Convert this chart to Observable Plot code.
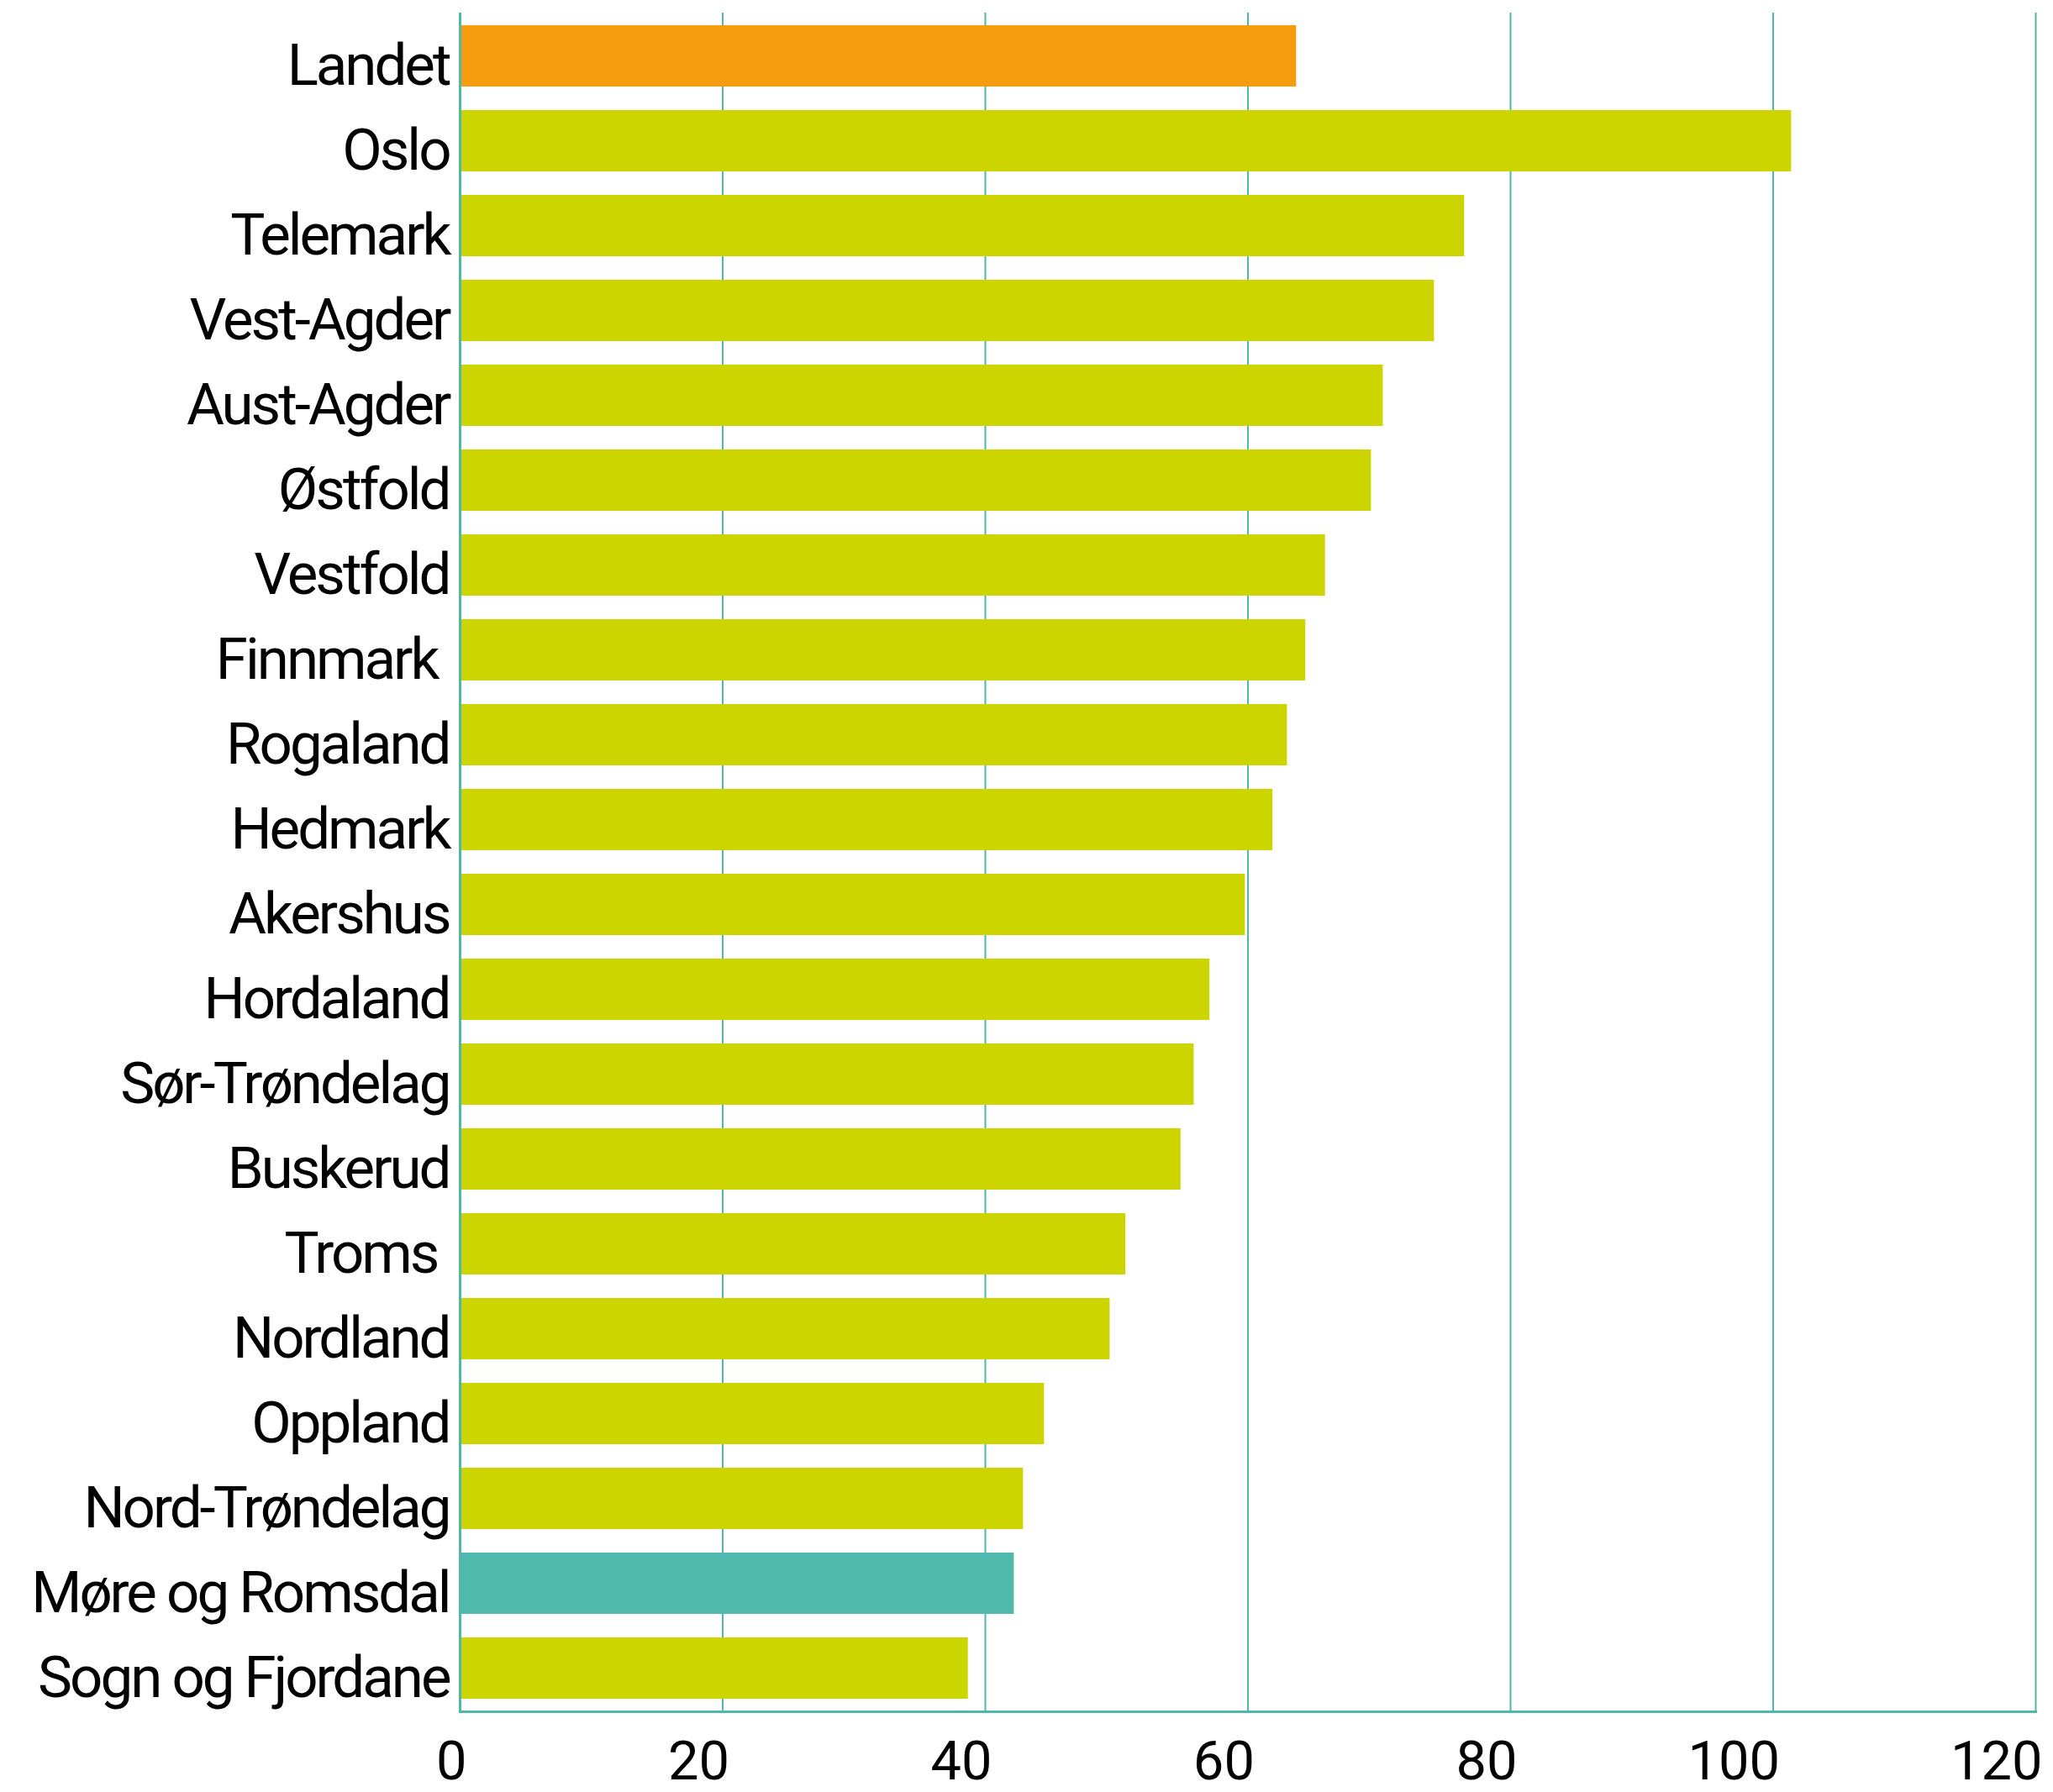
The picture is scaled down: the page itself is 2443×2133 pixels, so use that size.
<!DOCTYPE html>
<html><head><meta charset="utf-8">
<script src="https://cdn.jsdelivr.net/npm/d3@7"></script>
<script src="https://cdn.jsdelivr.net/npm/@observablehq/plot@0.6"></script>
<style>
body{margin:0;background:#fff}
g[aria-label="y-axis tick label"] text{letter-spacing:-3px}
</style>
</head><body><div id="chart"></div>
<script>
const regions = ["Landet","Oslo","Telemark","Vest-Agder","Aust-Agder","Østfold","Vestfold","Finnmark ","Rogaland","Hedmark","Akershus","Hordaland","Sør-Trøndelag","Buskerud","Troms ","Nordland","Oppland","Nord-Trøndelag","Møre og Romsdal","Sogn og Fjordane"];
const values = [63.7,101.4,76.5,74.2,70.3,69.4,65.9,64.4,63.0,61.9,59.8,57.1,55.9,54.9,50.7,49.5,44.5,42.9,42.2,38.7];
const groups = ["land","fylke","fylke","fylke","fylke","fylke","fylke","fylke","fylke","fylke","fylke","fylke","fylke","fylke","fylke","fylke","fylke","fylke","utvalgt","fylke"];
const xTicks = [0,20,40,60,80,100,120];

const teal = "#4fb8aa";
const data = regions.map((r,i)=>({region:r, value:values[i], group:groups[i]}));

const chart = Plot.plot({
  width: 2443, height: 2133,
  marginLeft: 547, marginRight: 21, marginTop: 15, marginBottom: 96,
  style: {fontFamily: "Roboto, sans-serif", background: "#fff", color: "#000"},
  x: {domain: [0,120]},
  y: {domain: regions, paddingInner: 0.28, paddingOuter: 0.14},
  color: {domain: ["land","fylke","utvalgt"], range: ["#f59d0f","#cdd500","#4eb9ac"]},
  marks: [
    Plot.ruleX(xTicks.slice(1), {stroke: teal, strokeWidth: 2}),
    Plot.barX(data, {x: "value", y: "region", fill: "group"}),
    Plot.ruleX([0], {stroke: teal, strokeWidth: 3}),
    Plot.frame({anchor: "bottom", stroke: teal, strokeWidth: 3}),
    Plot.axisY({tickSize: 0, tickPadding: 13, fontSize: 69, dy: 12,
      tickFormat: d => d.replace(/ $/, "\u00a0"), label: null}),
    Plot.axisX(xTicks, {tickSize: 0, tickPadding: 34, fontSize: 65, textAnchor: "end", dx: 8, label: null})
  ]
});
document.getElementById("chart").appendChild(chart);
</script>
</body></html>
